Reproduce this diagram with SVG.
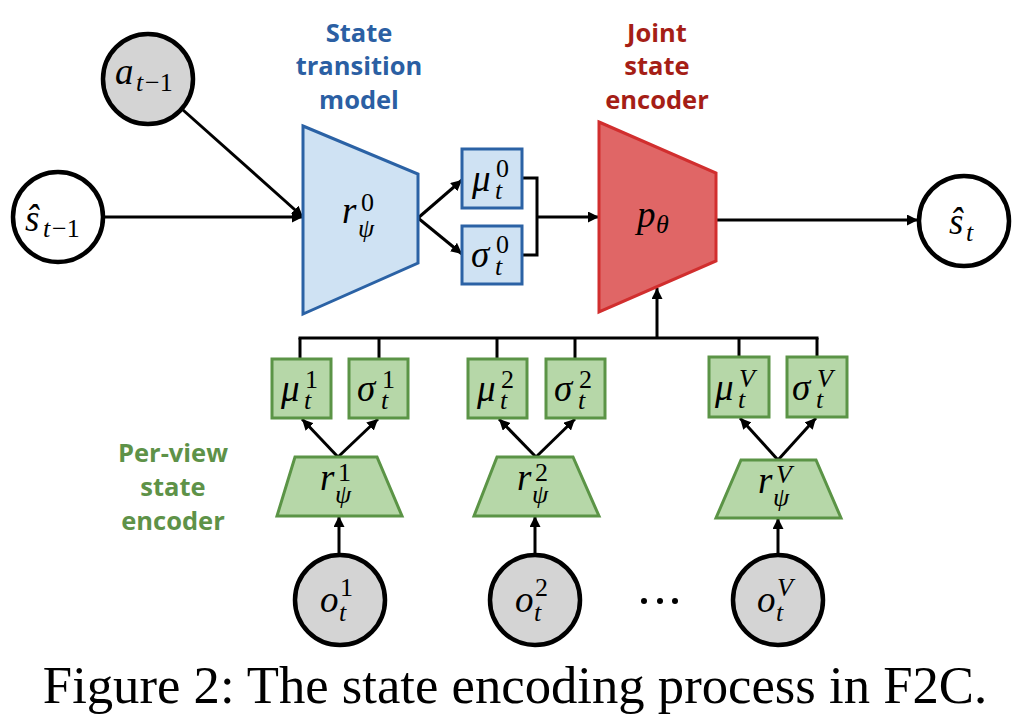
<svg xmlns="http://www.w3.org/2000/svg" width="1026" height="722" viewBox="0 0 1026 722">
<style>
.circ{stroke:#000;stroke-width:4.5}
.obs{fill:#d4d4d4}
.lat{fill:#fff}
.blue{fill:#cfe2f3;stroke:#2b62a5;stroke-width:3}
.red{fill:#e06666;stroke:#d12e2e;stroke-width:3}
.green{fill:#b6d7a8;stroke:#5b9446;stroke-width:3}
.m{font-family:"Liberation Serif","DejaVu Serif",serif;font-style:italic;font-size:37px;fill:#000}
.s{font-size:26px}
.up{font-style:normal}
.lbl{font-family:"Open Sans","Noto Sans",sans-serif;font-weight:bold;font-size:25.5px;text-anchor:middle}
.conn line,.conn polyline,.conn path{stroke:#000;stroke-width:3;fill:none}
.cap{font-family:"Liberation Serif","Times New Roman",serif;font-size:52.7px;text-anchor:middle;fill:#000}
</style>
<defs>
<marker id="ah" markerUnits="userSpaceOnUse" markerWidth="11" markerHeight="11" refX="11" refY="5.5" orient="auto">
<path d="M0,0 L11,5.5 L0,11 z" fill="#000"/>
</marker>
</defs>

<g id="label-transition" class="lbl" fill="#2b5fa3">
<text x="359" y="42">State</text>
<text x="359" y="75">transition</text>
<text x="359" y="109">model</text>
</g>
<g id="label-joint" class="lbl" fill="#a51e16">
<text x="657" y="42">Joint</text>
<text x="657" y="75">state</text>
<text x="657" y="109">encoder</text>
</g>
<g id="label-perview" class="lbl" fill="#5e9248">
<text x="173" y="462">Per-view</text>
<text x="173" y="496">state</text>
<text x="173" y="530">encoder</text>
</g>

<g class="conn" id="connectors">
<line x1="183" y1="110" x2="303" y2="217" marker-end="url(#ah)"/>
<line x1="104" y1="217" x2="303" y2="217" marker-end="url(#ah)"/>
<line x1="418" y1="218" x2="462" y2="180" marker-end="url(#ah)"/>
<line x1="418" y1="218" x2="462" y2="254" marker-end="url(#ah)"/>
<polyline points="522,178 537,178 537,255 522,255"/>
<line x1="537" y1="217" x2="599" y2="217" marker-end="url(#ah)"/>
<line x1="716" y1="220" x2="918" y2="220" marker-end="url(#ah)"/>
<line x1="298.5" y1="338" x2="818.5" y2="338"/>
<line x1="300" y1="338" x2="300" y2="359"/>
<line x1="379" y1="338" x2="379" y2="359"/>
<line x1="497" y1="338" x2="497" y2="359"/>
<line x1="575" y1="338" x2="575" y2="359"/>
<line x1="739" y1="338" x2="739" y2="357"/>
<line x1="817" y1="338" x2="817" y2="357"/>
<line x1="657" y1="338" x2="657" y2="288" marker-end="url(#ah)"/>
<line x1="338" y1="457" x2="302" y2="419" marker-end="url(#ah)"/>
<line x1="338" y1="457" x2="378" y2="419" marker-end="url(#ah)"/>
<line x1="536" y1="457" x2="499" y2="419" marker-end="url(#ah)"/>
<line x1="536" y1="457" x2="575" y2="419" marker-end="url(#ah)"/>
<line x1="778" y1="460" x2="740" y2="418" marker-end="url(#ah)"/>
<line x1="778" y1="460" x2="816" y2="418" marker-end="url(#ah)"/>
<line x1="339" y1="553" x2="339" y2="516" marker-end="url(#ah)"/>
<line x1="535" y1="553" x2="535" y2="516" marker-end="url(#ah)"/>
<line x1="778" y1="553" x2="778" y2="518" marker-end="url(#ah)"/>
</g>

<g id="node-a">
<circle class="circ obs" cx="148" cy="79" r="45"/>
<text class="m"><tspan x="115" y="84">a</tspan><tspan class="s" x="136" y="91">t</tspan><tspan class="s up" x="145" y="91">−1</tspan></text>
</g>
<g id="node-s-prev">
<circle class="circ lat" cx="58" cy="217" r="45"/>
<text class="m"><tspan x="25" y="231">ŝ</tspan><tspan class="s" x="43" y="237">t</tspan><tspan class="s up" x="52" y="237">−1</tspan></text>
</g>
<g id="node-r0">
<polygon class="blue" points="303,126 418,174 418,263 303,314"/>
<text class="m"><tspan x="342" y="223">r</tspan><tspan class="s up" x="361" y="211">0</tspan><tspan class="s" x="358" y="237">ψ</tspan></text>
</g>
<g id="node-mu0">
<rect class="blue" x="462" y="149" width="60" height="59"/>
<text class="m"><tspan x="472" y="191">μ</tspan><tspan class="s up" x="496" y="177">0</tspan><tspan class="s" x="495" y="199">t</tspan></text>
</g>
<g id="node-sigma0">
<rect class="blue" x="462" y="226" width="60" height="58"/>
<text class="m"><tspan x="471" y="267">σ</tspan><tspan class="s up" x="496" y="253">0</tspan><tspan class="s" x="495" y="275">t</tspan></text>
</g>
<g id="node-p">
<polygon class="red" points="599,122 716,173 716,261 599,312"/>
<text class="m"><tspan x="637" y="227">p</tspan><tspan class="s" x="656" y="233">θ</tspan></text>
</g>
<g id="node-s-t">
<circle class="circ lat" cx="964" cy="221" r="45"/>
<text class="m"><tspan x="949" y="234">ŝ</tspan><tspan class="s" x="966" y="241">t</tspan></text>
</g>

<g id="node-mu1">
<rect class="green" x="272" y="359" width="59" height="59"/>
<text class="m"><tspan x="281" y="401">μ</tspan><tspan class="s up" x="305" y="388">1</tspan><tspan class="s" x="304" y="409">t</tspan></text>
</g>
<g id="node-sigma1">
<rect class="green" x="349" y="359" width="59" height="59"/>
<text class="m"><tspan x="357" y="401">σ</tspan><tspan class="s up" x="382" y="388">1</tspan><tspan class="s" x="381" y="409">t</tspan></text>
</g>
<g id="node-mu2">
<rect class="green" x="468" y="359" width="59" height="59"/>
<text class="m"><tspan x="477" y="401">μ</tspan><tspan class="s up" x="501" y="388">2</tspan><tspan class="s" x="500" y="409">t</tspan></text>
</g>
<g id="node-sigma2">
<rect class="green" x="546" y="359" width="59" height="59"/>
<text class="m"><tspan x="554" y="401">σ</tspan><tspan class="s up" x="579" y="388">2</tspan><tspan class="s" x="578" y="409">t</tspan></text>
</g>
<g id="node-muV">
<rect class="green" x="709" y="357" width="60" height="60"/>
<text class="m"><tspan x="715" y="400">μ</tspan><tspan class="s" x="739" y="387">V</tspan><tspan class="s" x="738" y="408">t</tspan></text>
</g>
<g id="node-sigmaV">
<rect class="green" x="787" y="357" width="60" height="60"/>
<text class="m"><tspan x="792" y="400">σ</tspan><tspan class="s" x="817" y="387">V</tspan><tspan class="s" x="816" y="408">t</tspan></text>
</g>

<g id="node-r1">
<polygon class="green" points="295,457 377,457 402,516 277,516"/>
<text class="m"><tspan x="320" y="490">r</tspan><tspan class="s up" x="338" y="481">1</tspan><tspan class="s" x="335" y="503">ψ</tspan></text>
</g>
<g id="node-r2">
<polygon class="green" points="497,457 573,457 599,516 474,516"/>
<text class="m"><tspan x="517" y="490">r</tspan><tspan class="s up" x="535" y="481">2</tspan><tspan class="s" x="532" y="503">ψ</tspan></text>
</g>
<g id="node-rV">
<polygon class="green" points="741,460 816,460 841,518 716,518"/>
<text class="m"><tspan x="758" y="493">r</tspan><tspan class="s" x="776" y="483">V</tspan><tspan class="s" x="773" y="506">ψ</tspan></text>
</g>

<g id="node-o1">
<circle class="circ obs" cx="340" cy="600" r="45"/>
<text class="m"><tspan x="320" y="612">o</tspan><tspan class="s up" x="340" y="596">1</tspan><tspan class="s" x="339" y="621">t</tspan></text>
</g>
<g id="node-o2">
<circle class="circ obs" cx="535" cy="600" r="45"/>
<text class="m"><tspan x="515" y="612">o</tspan><tspan class="s up" x="535" y="596">2</tspan><tspan class="s" x="534" y="621">t</tspan></text>
</g>
<g id="node-oV">
<circle class="circ obs" cx="778" cy="600" r="45"/>
<text class="m"><tspan x="757" y="612">o</tspan><tspan class="s" x="777" y="596">V</tspan><tspan class="s" x="776" y="621">t</tspan></text>
</g>

<g id="ellipsis">
<circle cx="644" cy="601" r="3"/>
<circle cx="660" cy="601" r="3"/>
<circle cx="675" cy="601" r="3"/>
</g>

<text class="cap" x="515" y="703">Figure 2: The state encoding process in F2C.</text>
</svg>
